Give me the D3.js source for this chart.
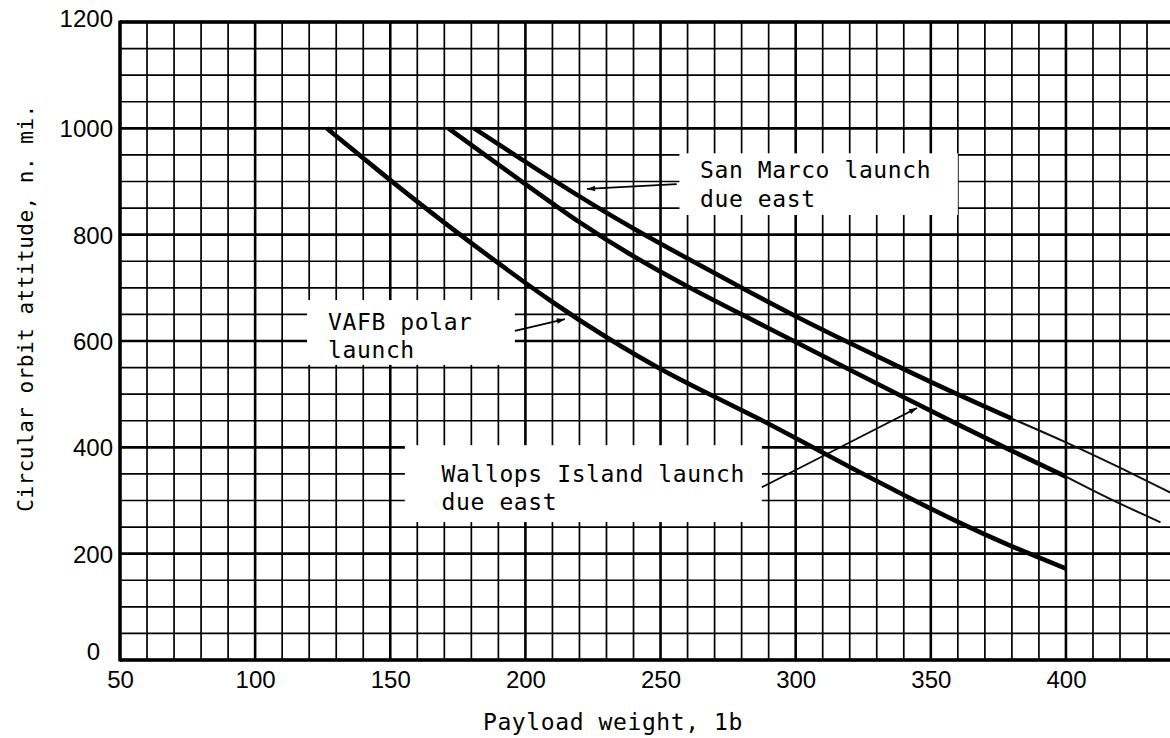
<!DOCTYPE html>
<html lang="en">
<head>
<meta charset="utf-8">
<title>Payload weight vs circular orbit altitude</title>
<script src="https://cdn.jsdelivr.net/npm/d3@7"></script>
<style>
  body { margin: 0; background: #fff; }
  .tick text { font-family: "Liberation Sans", Arial, sans-serif; font-size: 24px; fill: #000; }
  .mono { font-family: "DejaVu Sans Mono", "Liberation Mono", monospace; fill: #000; }
</style>
</head>
<body>
<script>
// curve data: [payload lb, altitude n.mi.]
var sanMarco = [[181, 1000], [200, 937], [220, 871], [240, 811], [260, 755], [280, 700],
                [300, 646], [320, 596], [340, 547], [360, 499], [380, 454]];
var sanMarcoExt = [[380, 454], [400, 410], [420, 362], [438.6, 315]];

var wallops = [[171.5, 1000], [200, 895], [220, 822], [240, 758], [260, 702], [280, 650],
               [300, 598], [320, 546], [340, 494], [360, 443], [380, 393], [400, 345]];
var wallopsExt = [[400, 345], [416, 303], [435, 259]];

var vafb = [[126.5, 1000], [150, 902], [170, 822], [190, 746], [210, 672], [230, 606],
            [250, 546], [270, 495], [290, 445], [300, 417], [320, 363], [340, 310],
            [360, 259], [380, 213], [400, 172]];

var xTicks = [50, 100, 150, 200, 250, 300, 350, 400];
var yTicks = [0, 200, 400, 600, 800, 1000, 1200];

// annotation boxes, in data units
var labels = [
  {lines: ["San Marco launch", "due east"], box: [257, 360, 953, 837], tx: 264.6, ty: [906, 852],
   arrow: [[256, 895], [222.8, 886]]},
  {lines: ["VAFB polar", "launch"], box: [119.2, 196.1, 677, 555], tx: 127, ty: [620, 568],
   arrow: [[196.1, 619], [214.6, 641]]},
  {lines: ["Wallops Island launch", "due east"], box: [155.4, 287.5, 404, 259.5], tx: 169, ty: [335, 282],
   arrow: [[287.5, 325], [344.9, 474]]}
];

var W = 1170, H = 738;
var svg = d3.select("body").append("svg").attr("width", W).attr("height", H);

var x = d3.scaleLinear().domain([50, 438.5]).range([120, 1170]);
var y = d3.scaleLinear().domain([0, 1200]).range([660, 22]);

svg.append("defs").append("marker")
   .attr("id", "head").attr("viewBox", "0 0 10 10")
   .attr("refX", 10).attr("refY", 5)
   .attr("markerWidth", 14).attr("markerHeight", 8)
   .attr("markerUnits", "userSpaceOnUse")
   .attr("orient", "auto")
   .append("path").attr("d", "M0,1.5 L10,5 L0,8.5 Z").attr("fill", "#000");

// grid
var grid = svg.append("g");
d3.range(50, 440, 10).forEach(function (v) {
    grid.append("line")
        .attr("x1", x(v)).attr("x2", x(v)).attr("y1", y(0)).attr("y2", y(1200))
        .attr("stroke", "#000")
        .attr("stroke-width", v % 50 == 0 ? 2.6 : 1.7);
});
d3.range(0, 1250, 50).forEach(function (v) {
    grid.append("line")
        .attr("x1", x(50)).attr("x2", W).attr("y1", y(v)).attr("y2", y(v))
        .attr("stroke", "#000")
        .attr("stroke-width", v % 200 == 0 ? 2.6 : 1.7);
});
// frame
grid.append("line").attr("x1", x(50)).attr("x2", x(50)).attr("y1", y(0) + 1.5).attr("y2", y(1200) - 1.5)
    .attr("stroke", "#000").attr("stroke-width", 3.4);
grid.append("line").attr("x1", x(50)).attr("x2", W).attr("y1", y(0)).attr("y2", y(0))
    .attr("stroke", "#000").attr("stroke-width", 3.4);
grid.append("line").attr("x1", x(50)).attr("x2", W).attr("y1", y(1200)).attr("y2", y(1200))
    .attr("stroke", "#000").attr("stroke-width", 3.4);

// label boxes
labels.forEach(function (d) {
    svg.append("rect")
       .attr("x", x(d.box[0])).attr("y", y(d.box[2]))
       .attr("width", x(d.box[1]) - x(d.box[0]))
       .attr("height", y(d.box[3]) - y(d.box[2]))
       .attr("fill", "#fff");
    d.lines.forEach(function (t, i) {
        svg.append("text").attr("class", "mono")
           .attr("x", x(d.tx)).attr("y", y(d.ty[i]))
           .style("font-size", "23px").style("letter-spacing", "0.6px")
           .text(t);
    });
    svg.append("line")
       .attr("x1", x(d.arrow[0][0])).attr("y1", y(d.arrow[0][1]))
       .attr("x2", x(d.arrow[1][0])).attr("y2", y(d.arrow[1][1]))
       .attr("stroke", "#000").attr("stroke-width", 1.8)
       .attr("marker-end", "url(#head)");
});

// curves
var line = d3.line()
    .x(function (d) { return x(d[0]); })
    .y(function (d) { return y(d[1]); })
    .curve(d3.curveBasis);

[sanMarco, wallops, vafb].forEach(function (s) {
    svg.append("path").attr("d", line(s))
       .attr("fill", "none").attr("stroke", "#000")
       .attr("stroke-width", 4.6).attr("stroke-linecap", "butt");
});
[sanMarcoExt, wallopsExt].forEach(function (s) {
    svg.append("path").attr("d", line(s))
       .attr("fill", "none").attr("stroke", "#111")
       .attr("stroke-width", 2);
});

// axes labels
var xAxis = svg.append("g")
    .attr("transform", "translate(0," + (y(0) + 8) + ")")
    .call(d3.axisBottom(x).tickValues(xTicks).tickSize(0).tickFormat(d3.format("d")));
xAxis.select(".domain").remove();

var yAxis = svg.append("g")
    .attr("transform", "translate(" + (x(50) - 4) + ",0)")
    .call(d3.axisLeft(y).tickValues(yTicks).tickSize(0).tickFormat(d3.format("d")));
yAxis.select(".domain").remove();
yAxis.selectAll(".tick text").attr("dy", "0.35em");
// the 0 and 1200 labels sit a little above their lines in the original
yAxis.selectAll(".tick text")
     .filter(function (d) { return d == 0; })
     .attr("x", -16).attr("dy", "-0.03em");
yAxis.selectAll(".tick text")
     .filter(function (d) { return d == 1200; })
     .attr("dy", "0.2em");

svg.append("text").attr("class", "mono")
   .attr("x", 613).attr("y", 730)
   .attr("text-anchor", "middle")
   .style("font-size", "23px").style("letter-spacing", "0.6px")
   .text("Payload weight, 1b");

svg.append("text").attr("class", "mono")
   .attr("transform", "translate(33,308) rotate(-90)")
   .attr("text-anchor", "middle")
   .style("font-size", "21px").style("letter-spacing", "0.5px")
   .text("Circular orbit attitude, n. mi.");
</script>
</body>
</html>
